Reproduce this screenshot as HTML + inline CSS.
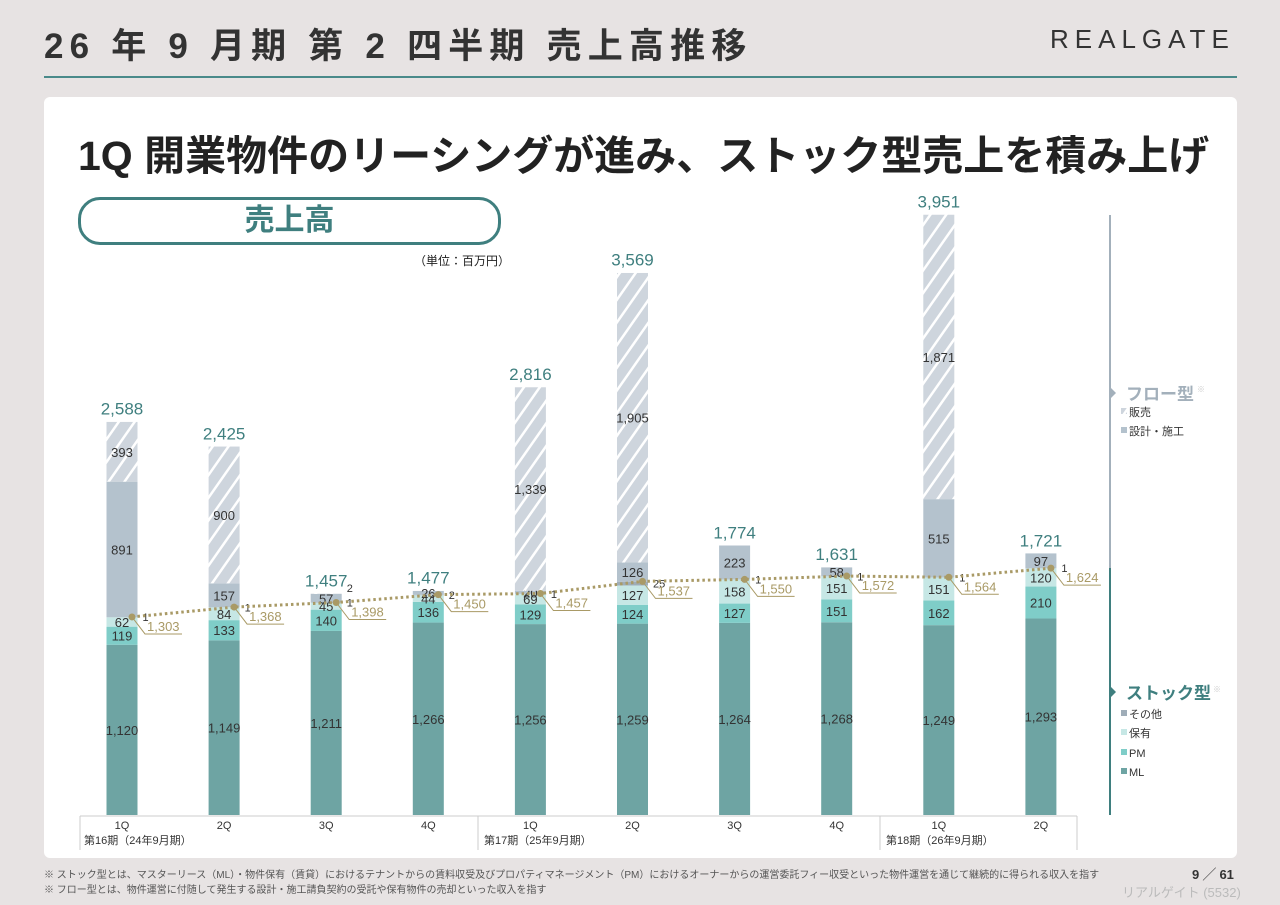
<!DOCTYPE html>
<html><head><meta charset="utf-8">
<style>
body{margin:0;width:1280px;height:905px;background:#e7e3e3;font-family:"Liberation Sans","Noto Sans CJK JP",sans-serif;position:relative;overflow:hidden}
.abs{position:absolute}
</style></head><body>
<div class="abs" style="left:44px;top:18px;font-size:35px;font-weight:bold;color:#333;letter-spacing:6.2px">26 年 9 月期 第 2 四半期 売上高推移</div>
<div class="abs" style="left:1050px;top:24px;font-size:26px;color:#333;letter-spacing:6px">REALGATE</div>
<div class="abs" style="left:44px;top:76px;width:1193px;height:2px;background:#4a8a8a"></div>
<div class="abs" style="left:44px;top:97px;width:1193px;height:761px;background:#fff;border-radius:6px"></div>
<div class="abs" style="left:78px;top:122px;font-size:41px;font-weight:bold;color:#222;letter-spacing:0px">1Q 開業物件のリーシングが進み、ストック型売上を積み上げ</div>
<div class="abs" style="left:78px;top:197px;width:417px;height:42px;border:3px solid #3f7f7f;border-radius:22px;color:#3f7f7f;font-size:30px;font-weight:bold;text-align:center;line-height:42px">売上高</div>
<div class="abs" style="left:414px;top:252px;font-size:12px;color:#222">（単位：百万円）</div>
<svg class="abs" style="left:0;top:0" width="1280" height="905" id="chart">
<defs><pattern id="hatch" width="13" height="13" patternUnits="userSpaceOnUse" patternTransform="rotate(35)"><rect width="13" height="13" fill="#ced5dd"/><rect width="2.5" height="13" fill="#fff"/></pattern></defs>
</svg>
<div class="abs" style="left:44px;top:866px;font-size:10px;color:#555">※ ストック型とは、マスターリース（ML）・物件保有（賃貸）におけるテナントからの賃料収受及びプロパティマネージメント（PM）におけるオーナーからの運営委託フィー収受といった物件運営を通じて継続的に得られる収入を指す</div>
<div class="abs" style="left:44px;top:881px;font-size:10px;color:#555">※ フロー型とは、物件運営に付随して発生する設計・施工請負契約の受託や保有物件の売却といった収入を指す</div>
<div class="abs" style="left:1192px;top:864px;font-size:13px;color:#333;font-weight:bold">9 ╱ 61</div>
<div class="abs" style="left:1122px;top:882px;font-size:13px;color:#bbb">リアルゲイト (5532)</div>
<script>
const categories=["1Q","2Q","3Q","4Q","1Q","2Q","3Q","4Q","1Q","2Q"];
const periods=["第16期（24年9月期）","第17期（25年9月期）","第18期（26年9月期）"];
const ml=[1120,1149,1211,1266,1256,1259,1264,1268,1249,1293];
const pm=[119,133,140,136,129,124,127,151,162,210];
const hoyu=[62,84,45,44,69,127,158,151,151,120];
const other=[1,1,1,2,1,25,1,1,1,1];
const design=[891,157,57,26,20,126,223,58,515,97];
const sales=[393,900,2,0,1339,1905,0,0,1871,0];
const totals=[2588,2425,1457,1477,2816,3569,1774,1631,3951,1721];
const stockTotals=[1303,1368,1398,1450,1457,1537,1550,1572,1564,1624];
const svg=document.getElementById('chart');const NS='http://www.w3.org/2000/svg';
const base=815,k=0.152,bw=31;
const xc=i=>122+i*102.1;
const y=v=>base-v*k;
const fmt=v=>v.toLocaleString('en-US');
function el(t,a,txt){const e=document.createElementNS(NS,t);for(const n in a)e.setAttribute(n,a[n]);if(txt!==undefined)e.textContent=txt;svg.appendChild(e);return e;}
let ax=el('line',{x1:80,y1:base+1,x2:1077,y2:base+1,stroke:'#ccc'});

[80,478,880,1077].forEach(x=>{const d=el('line',{x1:x,y1:base+1,x2:x,y2:850,stroke:'#ccc'});});
const series=[[ml,'#6ea4a3','ml'],[pm,'#7fcdc8','pm'],[hoyu,'#c6e7e5','hoyu'],[other,'#9fadb8','other'],[design,'#b4c2cd','design'],[sales,'url(#hatch)','sales']];
categories.forEach((c,i)=>{
  let cum=0;const x=xc(i)-bw/2;
  series.forEach(([arr,col,nm])=>{
    const v=arr[i];if(v<=0){return;}
    const r=el('rect',{x:x,y:y(cum+v),width:bw,height:v*k,fill:col});
    
    const mid=y(cum+v/2);
    if(nm!=='other'&&v>=10){const t=el('text',{x:xc(i),y:mid+5,'text-anchor':'middle','font-size':13,fill:'#333'},fmt(v));}
    else{const t=el('text',{x:xc(i)+bw/2+5,y:mid+(nm==='sales'?-2:4),'font-size':11,fill:'#333'},fmt(v));}
    cum+=v;
  });
  const tt=el('text',{x:xc(i),y:y(totals[i])-7,'text-anchor':'middle','font-size':17,fill:'#3f7f7f'},fmt(totals[i]));
  
  const cl=el('text',{x:xc(i),y:base+14,'text-anchor':'middle','font-size':11,fill:'#333'},c);
  
});
[84,484,886].forEach((px,p)=>{const t=el('text',{x:px,y:base+29,'font-size':11,fill:'#333'},periods[p]);});
const mx=i=>xc(i)+10;
let d='';stockTotals.forEach((v,i)=>{d+=(i?'L':'M')+mx(i)+','+y(v)+' ';});
const ln=el('path',{d:d,fill:'none',stroke:'#a99a66','stroke-width':3,'stroke-dasharray':'2.5,3'});

stockTotals.forEach((v,i)=>{
  const px=mx(i),py=y(v);
  const m=el('circle',{cx:px,cy:py,r:3.5,fill:'#a99a66'});
  const l=el('path',{d:`M${px},${py} L${px+13},${py+17} L${px+50},${py+17}`,fill:'none',stroke:'#a99a66','stroke-width':1});
  
  const t=el('text',{x:px+15,y:py+14,'font-size':13,fill:'#a99a66'},fmt(v));
});
let a=el('line',{x1:1110,y1:215,x2:1110,y2:568,stroke:'#a3b0bb','stroke-width':2});
let b=el('line',{x1:1110,y1:568,x2:1110,y2:815,stroke:'#3f7f7f','stroke-width':2});
el('path',{d:'M1111,388 l5,5 l-5,5z',fill:'#a3b0bb'});el('path',{d:'M1111,687 l5,5 l-5,5z',fill:'#3f7f7f'});
let h1=el('text',{x:1126,y:400,'font-size':17,'font-weight':'bold',fill:'#a3b0bb'},'フロー型');
el('text',{x:1197,y:392,'font-size':8,fill:'#ccc'},'※');
let h2=el('text',{x:1126,y:699,'font-size':17,'font-weight':'bold',fill:'#3f7f7f'},'ストック型');
el('text',{x:1213,y:692,'font-size':8,fill:'#ccc'},'※');
const leg=[['販売','url(#hatch)',412],['設計・施工','#b4c2cd',431],['その他','#9fadb8',714],['保有','#c6e7e5',733],['PM','#7fcdc8',753],['ML','#6ea4a3',772]];
leg.forEach(([n,c,yy])=>{const r=el('rect',{x:1121,y:yy-4,width:6,height:6,fill:c});
const t=el('text',{x:1129,y:yy+4,'font-size':11,fill:'#333'},n);});
</script>
</body></html>
